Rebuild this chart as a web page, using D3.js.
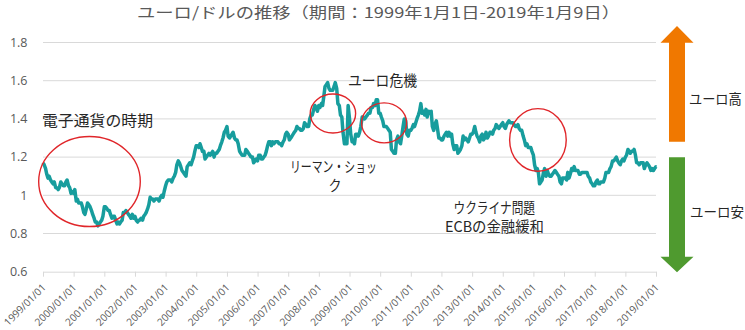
<!DOCTYPE html>
<html><head><meta charset="utf-8">
<script src="https://cdn.jsdelivr.net/npm/d3@7"></script>
<style>
html,body{margin:0;padding:0;background:#fff;}
svg{display:block;}
</style>
</head><body>
<svg id="chart" width="745" height="330"></svg>
<script>
const titleText = "ユーロ/ドルの推移（期間：1999年1月1日-2019年1月9日）";
const yTicks = [0.6, 0.8, 1, 1.2, 1.4, 1.6, 1.8];
const yTickLabels = ["0.6", "0.8", "1", "1.2", "1.4", "1.6", "1.8"];
const tickYears = [1999,2000,2001,2002,2003,2004,2005,2006,2007,2008,2009,2010,2011,2012,2013,2014,2015,2016,2017,2018,2019];
const tickLabels = tickYears.map(y => y + "/01/01");
// EUR/USD readings on the 1st and 15th of each month, one row per year (1999..2018)
const rates = [
 1.17,1.16, 1.14,1.11, 1.09,1.10, 1.08,1.07, 1.06,1.07, 1.04,1.04, 1.03,1.04, 1.07,1.06, 1.05,1.05, 1.07,1.08, 1.05,1.04, 1.01,1.02,
 1.01,1.03, 0.97,0.98, 0.96,0.96, 0.96,0.94, 0.91,0.90, 0.93,0.96, 0.95,0.94, 0.92,0.90, 0.88,0.86, 0.86,0.84, 0.85,0.86, 0.87,0.89,
 0.94,0.94, 0.93,0.92, 0.92,0.90, 0.88,0.89, 0.89,0.87, 0.85,0.86, 0.85,0.86, 0.87,0.91, 0.91,0.92, 0.91,0.90, 0.89,0.88, 0.90,0.88,
 0.89,0.87, 0.86,0.87, 0.87,0.88, 0.87,0.89, 0.90,0.91, 0.93,0.95, 0.99,0.98, 0.98,0.97, 0.98,0.98, 0.98,0.97, 0.99,1.00, 0.99,1.02,
 1.05,1.07, 1.08,1.08, 1.08,1.07, 1.09,1.10, 1.12,1.16, 1.18,1.17, 1.15,1.13, 1.12,1.11, 1.10,1.15, 1.16,1.17, 1.16,1.18, 1.20,1.23,
 1.26,1.26, 1.25,1.27, 1.25,1.23, 1.23,1.19, 1.20,1.21, 1.22,1.21, 1.22,1.23, 1.20,1.22, 1.22,1.23, 1.24,1.26, 1.28,1.30, 1.33,1.34,
 1.36,1.31, 1.30,1.31, 1.32,1.33, 1.30,1.29, 1.29,1.27, 1.23,1.22, 1.21,1.21, 1.21,1.24, 1.23,1.22, 1.21,1.20, 1.20,1.17, 1.18,1.19,
 1.18,1.21, 1.21,1.19, 1.19,1.20, 1.21,1.23, 1.26,1.28, 1.28,1.26, 1.28,1.27, 1.28,1.28, 1.28,1.27, 1.27,1.26, 1.28,1.29, 1.32,1.33,
 1.32,1.29, 1.30,1.31, 1.32,1.33, 1.34,1.36, 1.35,1.35, 1.34,1.34, 1.35,1.38, 1.37,1.36, 1.36,1.40, 1.42,1.42, 1.45,1.47, 1.46,1.44,
 1.47,1.46, 1.48,1.47, 1.52,1.57, 1.58,1.59, 1.56,1.55, 1.55,1.55, 1.57,1.59, 1.56,1.48, 1.47,1.42, 1.41,1.33, 1.27,1.27, 1.27,1.47,
 1.40,1.32, 1.28,1.28, 1.27,1.32, 1.32,1.31, 1.33,1.36, 1.41,1.41, 1.40,1.41, 1.42,1.43, 1.43,1.46, 1.46,1.48, 1.47,1.50, 1.50,1.43,
 1.43,1.41, 1.39,1.36, 1.36,1.36, 1.35,1.34, 1.33,1.24, 1.23,1.22, 1.22,1.29, 1.31,1.28, 1.27,1.31, 1.36,1.40, 1.39,1.32, 1.31,1.34,
 1.34,1.35, 1.37,1.36, 1.38,1.40, 1.42,1.44, 1.48,1.43, 1.44,1.42, 1.45,1.41, 1.44,1.43, 1.44,1.36, 1.34,1.37, 1.39,1.35, 1.30,1.30,
 1.29,1.29, 1.31,1.32, 1.33,1.31, 1.33,1.31, 1.32,1.27, 1.24,1.26, 1.26,1.22, 1.23,1.24, 1.26,1.31, 1.29,1.30, 1.29,1.28, 1.30,1.32,
 1.32,1.33, 1.36,1.33, 1.31,1.30, 1.28,1.31, 1.32,1.29, 1.30,1.33, 1.30,1.31, 1.33,1.33, 1.32,1.34, 1.35,1.37, 1.36,1.35, 1.36,1.37,
 1.38,1.36, 1.35,1.37, 1.38,1.39, 1.38,1.38, 1.38,1.37, 1.36,1.36, 1.37,1.35, 1.34,1.34, 1.31,1.29, 1.26,1.27, 1.25,1.25, 1.25,1.23,
 1.21,1.16, 1.13,1.14, 1.12,1.06, 1.07,1.08, 1.12,1.14, 1.10,1.13, 1.11,1.10, 1.10,1.11, 1.12,1.13, 1.12,1.11, 1.10,1.07, 1.06,1.09,
 1.09,1.09, 1.08,1.12, 1.09,1.11, 1.14,1.13, 1.15,1.13, 1.13,1.13, 1.11,1.11, 1.12,1.12, 1.12,1.12, 1.12,1.10, 1.09,1.07, 1.06,1.05,
 1.05,1.07, 1.08,1.06, 1.06,1.07, 1.07,1.07, 1.09,1.12, 1.12,1.12, 1.14,1.15, 1.18,1.18, 1.19,1.20, 1.18,1.17, 1.16,1.18, 1.19,1.18,
 1.20,1.21, 1.24,1.23, 1.22,1.23, 1.23,1.24, 1.21,1.17, 1.17,1.16, 1.17,1.17, 1.17,1.14, 1.16,1.17, 1.16,1.15, 1.13,1.14, 1.13,1.14
];
const tailDates = ["2019-01-01", "2019-01-09"];
const tailRates = [1.15, 1.15];

const annotations = [
  {lines:["電子通貨の時期"], x:[42], y:[126], len:[111]},
  {lines:["ユーロ危機"], x:[348], y:[86], len:[69]},
  {lines:["リーマン・ショッ","ク"], x:[290, 328.5], y:[172, 191], len:[87, 13]},
  {lines:["ウクライナ問題","ECBの金融緩和"], x:[453.5, 445], y:[213, 232], len:[81.5, 99]}
];
const circles = [
  {date:"2000-07-08", v:1.072, rx:50.8, ry:45},
  {date:"2008-06-17", v:1.428, rx:22.7, ry:19.5},
  {date:"2010-02-17", v:1.379, rx:22.5, ry:20},
  {date:"2015-02-24", v:1.29, rx:28.3, ry:31.3}
];

const svg = d3.select("#chart");
const parse = d3.timeParse("%Y-%m-%d");
const data = [];
rates.forEach((v, i) => {
  const yr = 1999 + Math.floor(i / 24), m = Math.floor((i % 24) / 2), day = (i % 2) ? 15 : 1;
  data.push({date: new Date(yr, m, day), v});
});
tailDates.forEach((d, i) => data.push({date: parse(d), v: tailRates[i]}));

const x = d3.scaleTime().domain([new Date(1999,0,1), new Date(2019,0,1)]).range([43, 656]);
const y = d3.scaleLinear().domain([0.6, 1.8]).range([271.7, 42.5]);

const gray = "#595959";
const cjk = "'Noto Sans CJK JP', sans-serif";
// gridlines
svg.append("g").selectAll("line").data(yTicks.slice(1)).join("line")
  .attr("x1", 43).attr("x2", 656)
  .attr("y1", d => y(d)).attr("y2", d => y(d))
  .attr("stroke", "#d9d9d9").attr("stroke-width", 1);

// y labels
svg.append("g").selectAll("text").data(yTicks).join("text")
  .attr("x", 27.5).attr("y", d => y(d)).attr("dy", "0.35em")
  .attr("text-anchor", "end")
  .attr("font-family", "'Open Sans', 'Noto Sans', sans-serif")
  .attr("font-size", 12.5).attr("fill", gray)
  .text((d,i) => yTickLabels[i]);

// x axis
const xAxis = d3.axisBottom(x)
  .tickValues(tickYears.map(yr => new Date(yr,0,1)))
  .tickFormat((d,i) => tickLabels[i])
  .tickSizeInner(5).tickSizeOuter(0);
const gx = svg.append("g").attr("transform", `translate(0,${y(0.6)})`).call(xAxis);
gx.select(".domain").attr("stroke", "#d9d9d9");
gx.selectAll(".tick line").attr("stroke", "#d9d9d9");
gx.selectAll(".tick text")
  .attr("font-family", "'Open Sans', 'Noto Sans', sans-serif")
  .attr("font-size", 10.2).attr("fill", gray)
  .attr("text-anchor", "end")
  .attr("x", 0).attr("y", 0).attr("dy", 0)
  .attr("transform", "translate(3,16.5) rotate(-45)");

// line
const line = d3.line().x(d => x(d.date)).y(d => y(d.v));
svg.append("path").datum(data)
  .attr("d", line).attr("fill", "none")
  .attr("stroke", "#179d9d").attr("stroke-width", 3.5).attr("stroke-linejoin", "round");

// circles
svg.append("g").selectAll("ellipse").data(circles).join("ellipse")
  .attr("cx", d => x(parse(d.date))).attr("cy", d => y(d.v))
  .attr("rx", d => d.rx).attr("ry", d => d.ry)
  .attr("fill", "none").attr("stroke", "#e0262a").attr("stroke-width", 1.4);

// annotations
annotations.forEach(a => {
  a.lines.forEach((l, i) => {
    svg.append("text").attr("x", a.x[i]).attr("y", a.y[i])
      .attr("font-family", cjk).attr("font-size", 15).attr("fill", "#262626")
      .attr("textLength", a.len[i]).attr("lengthAdjust", "spacingAndGlyphs")
      .text(l);
  });
});

// title
svg.append("text").attr("x", 137).attr("y", 17.5)
  .attr("font-family", cjk).attr("font-size", 15).attr("fill", gray)
  .attr("textLength", 483).attr("lengthAdjust", "spacingAndGlyphs")
  .text(titleText);

// arrows
const up = [[677,26],[693.5,42.7],[685,42.7],[685,141.7],[669,141.7],[669,42.7],[660.5,42.7]];
const down = [[677,272.3],[693.5,256.7],[685,256.7],[685,157.3],[669,157.3],[669,256.7],[660.5,256.7]];
svg.append("polygon").attr("points", up.map(p => p.join(",")).join(" ")).attr("fill", "#f07800");
svg.append("polygon").attr("points", down.map(p => p.join(",")).join(" ")).attr("fill", "#4f9a2f");
svg.append("text").attr("x", 689).attr("y", 104)
  .attr("font-family", cjk).attr("font-size", 14).attr("fill", "#262626")
  .attr("textLength", 52.7).attr("lengthAdjust", "spacingAndGlyphs").text("ユーロ高");
svg.append("text").attr("x", 690).attr("y", 217)
  .attr("font-family", cjk).attr("font-size", 14).attr("fill", "#262626")
  .attr("textLength", 54).attr("lengthAdjust", "spacingAndGlyphs").text("ユーロ安");
</script>
</body></html>
